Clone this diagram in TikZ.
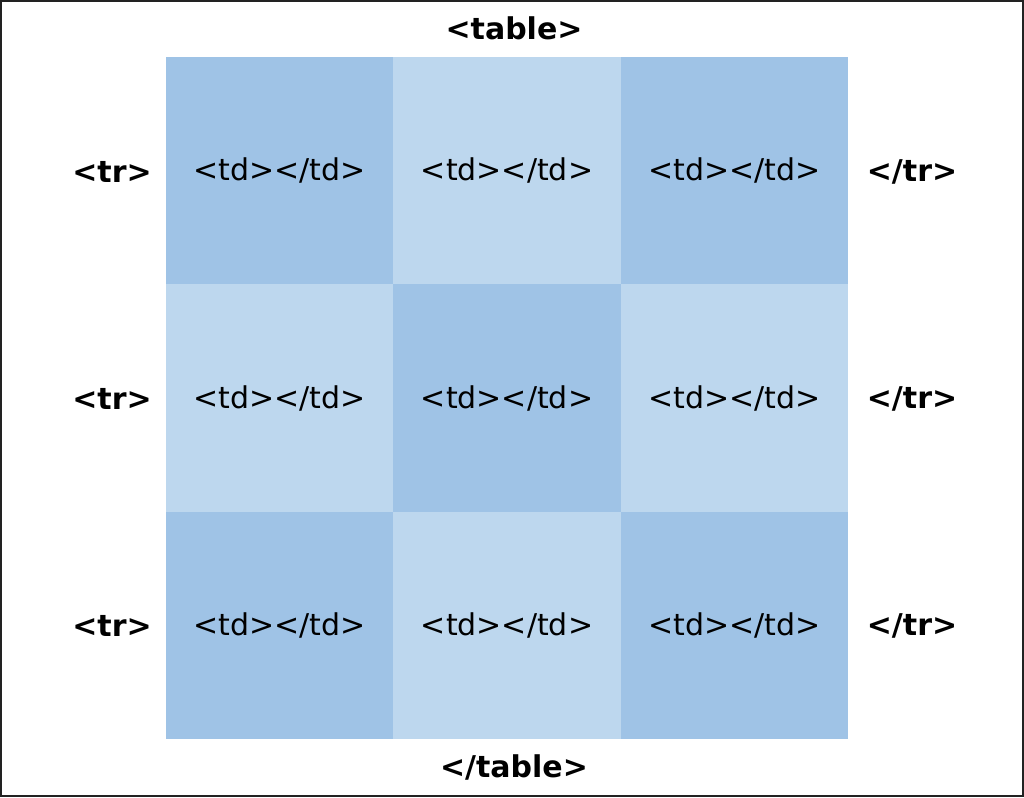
\documentclass[tikz,border=0pt]{standalone}
\usepackage{fontspec}
\setmainfont{DejaVu Sans}
\usepackage{xcolor}
\usepackage{tikz}
\usetikzlibrary{positioning}

\definecolor{celldark}{HTML}{9FC3E6}
\definecolor{celllight}{HTML}{BDD7EE}
\definecolor{frame}{HTML}{222222}

\tikzset{
  cell/.style={inner sep=0pt, minimum size=227.33pt, font=\fontsize{30}{36}\selectfont},
  tag/.style={font=\fontsize{30}{36}\selectfont\bfseries}
}

\begin{document}
\begin{tikzpicture}[x=1pt, y=-1pt]

% Page and frame
\useasboundingbox (0,0) rectangle (1024,797);
\draw[frame, line width=2pt] (1,1) rectangle (1023,796);

% Grid of cells
\foreach \r in {0,1,2} {
  \foreach \c in {0,1,2} {
    \pgfmathparse{mod(\r+\c,2)==0 ? "celldark" : "celllight"}
    \edef\cellcol{\pgfmathresult}
    \node[cell, fill=\cellcol] (cell-\r-\c) at ({166+227.33*(\c+0.5)}, {57+227.33*(\r+0.5)}) {<td></td>};
  }
}

% Row tags
\foreach \r in {0,1,2} {
  \node[tag] (tr-open-\r) at (112, {58+227.33*(\r+0.5)}) {<tr>};
  \node[tag] (tr-close-\r) at (912, {58+227.33*(\r+0.5)}) {</tr>};
}

% Table tags
\node[tag] (table-open) at (514, 28) {<table>};
\node[tag] (table-close) at (514, 767) {</table>};

\end{tikzpicture}
\end{document}
